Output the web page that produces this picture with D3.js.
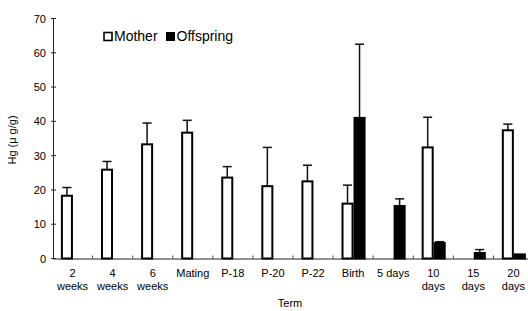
<!DOCTYPE html>
<html>
<head>
<meta charset="utf-8">
<script src="https://cdn.jsdelivr.net/npm/d3@7"></script>
<style>
  body { margin: 0; background: #fff; }
  svg { display: block; font-family: "Liberation Sans", Arial, sans-serif; }
</style>
</head>
<body>
<div id="chart"></div>
<script>
// Hg by term, mother vs offspring
const terms = ["2 weeks", "4 weeks", "6 weeks", "Mating", "P-18", "P-20", "P-22", "Birth", "5 days", "10 days", "15 days", "20 days"]
const termLabels = [["2", "weeks"], ["4", "weeks"], ["6", "weeks"], ["Mating"], ["P-18"], ["P-20"], ["P-22"], ["Birth"], ["5 days"], ["10", "days"], ["15", "days"], ["20", "days"]]
const series = ["Mother", "Offspring"]
const motherMean = [18.3, 25.9, 33.3, 36.7, 23.6, 21.1, 22.5, 16.0, null, 32.4, null, 37.4]
const motherErr = [2.4, 2.4, 6.2, 3.6, 3.2, 11.3, 4.7, 5.4, null, 8.8, null, 1.8]
const offspringMean = [null, null, null, null, null, null, null, 41.0, 15.3, 4.5, 1.6, 1.2]
const offspringErr = [null, null, null, null, null, null, null, 21.5, 2.1, 0.4, 1.0, 0]
const yTicks = [0, 10, 20, 30, 40, 50, 60, 70]

function renderChart(frame_id) {
    let width = 528
    let height = 311

    var svg = d3.select("#" + frame_id)
        .append("svg")
        .attr("width", width)
        .attr("height", height)

    var x = d3.scaleBand().domain(terms).range([52.5, 533.5]).padding(0)
    var xs = d3.scaleBand().domain(series).range([x.bandwidth() * 0.21, x.bandwidth() * 0.81])
    var y = d3.scaleLinear().domain([0, 70]).range([258.5, 18.5])

    var rows = []
    terms.forEach((t, i) => {
        if (motherMean[i] != null) rows.push({ term: t, s: "Mother", v: motherMean[i], e: motherErr[i] })
        if (offspringMean[i] != null) rows.push({ term: t, s: "Offspring", v: offspringMean[i], e: offspringErr[i] })
    })

    // axes
    svg.append("line")
        .attr("x1", 53.5).attr("x2", 53.5)
        .attr("y1", y(70)).attr("y2", y(0))
        .attr("stroke", "#222").attr("stroke-width", 1)
    svg.append("line")
        .attr("x1", 53.5).attr("x2", width)
        .attr("y1", y(0) + 0.5).attr("y2", y(0) + 0.5)
        .attr("stroke", "#222").attr("stroke-width", 1.2)

    const yAxis = svg.append("g")
    yAxis.selectAll("line")
        .data(yTicks)
        .enter()
        .append("line")
        .attr("x1", 51).attr("x2", 56)
        .attr("y1", d => y(d)).attr("y2", d => y(d))
        .attr("stroke", "#222")
    yAxis.selectAll("text")
        .data(yTicks)
        .enter()
        .append("text")
        .attr("x", 46)
        .attr("y", d => y(d) + 4)
        .attr("text-anchor", "end")
        .style("font-size", "11px")
        .text(d => d)

    // x boundary ticks
    svg.append("g").selectAll("line")
        .data(terms.slice(1))
        .enter()
        .append("line")
        .attr("x1", d => x(d)).attr("x2", d => x(d))
        .attr("y1", y(0) - 3).attr("y2", y(0))
        .attr("stroke", "#444")

    // x labels
    const xl = svg.append("g")
    termLabels.forEach((lines, i) => {
        const cx = x(terms[i]) + x.bandwidth() / 2
        lines.forEach((ln, j) => {
            xl.append("text")
                .attr("x", cx)
                .attr("y", 277 + j * 13)
                .attr("text-anchor", "middle")
                .style("font-size", "11px")
                .text(ln)
        })
    })

    // error bars
    const eb = svg.append("g").attr("stroke", "#111").attr("stroke-width", 1.5)
    rows.filter(d => d.e > 0).forEach(d => {
        const cx = x(d.term) + xs(d.s) + xs.bandwidth() / 2
        eb.append("line").attr("x1", cx).attr("x2", cx).attr("y1", y(d.v)).attr("y2", y(d.v + d.e))
        eb.append("line").attr("x1", cx - 4.5).attr("x2", cx + 4.5).attr("y1", y(d.v + d.e)).attr("y2", y(d.v + d.e))
    })

    // bars
    svg.append("g").selectAll("rect")
        .data(rows)
        .enter()
        .append("rect")
        .attr("x", d => x(d.term) + xs(d.s) + 1)
        .attr("width", xs.bandwidth() - 2)
        .attr("y", d => y(d.v))
        .attr("height", d => y(0) - y(d.v))
        .attr("fill", d => d.s == "Mother" ? "#fff" : "#000")
        .attr("stroke", "#000")
        .style("stroke-width", "2px")

    // legend
    const legend = svg.append("g")
    legend.append("rect").attr("x", 104).attr("y", 32.5).attr("width", 8).attr("height", 8)
        .attr("fill", "#fff").attr("stroke", "#000").style("stroke-width", "1.6px")
    legend.append("text").attr("x", 114).attr("y", 41).style("font-size", "14px").text("Mother")
    legend.append("rect").attr("x", 166).attr("y", 32).attr("width", 9).attr("height", 9).attr("fill", "#000")
    legend.append("text").attr("x", 176.5).attr("y", 41).style("font-size", "14px").text("Offspring")

    // axis titles
    svg.append("text")
        .attr("transform", "translate(16,140) rotate(-90)")
        .attr("text-anchor", "middle")
        .style("font-size", "11px")
        .text("Hg (μ g/g)")
    svg.append("text")
        .attr("x", 290).attr("y", 307)
        .attr("text-anchor", "middle")
        .style("font-size", "11px")
        .text("Term")
}

document.addEventListener("DOMContentLoaded", () => {
    renderChart("chart")
})
</script>
</body>
</html>
